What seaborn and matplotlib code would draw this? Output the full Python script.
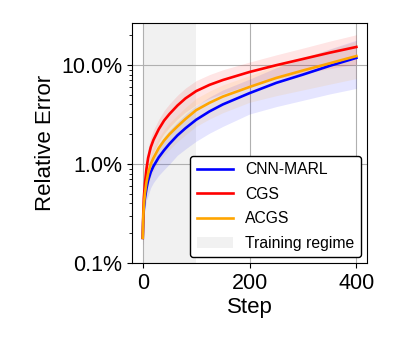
import numpy as np
import pandas as pd
import matplotlib
matplotlib.use("Agg")
import matplotlib.pyplot as plt
import seaborn as sns
from matplotlib.ticker import FuncFormatter
from matplotlib.patches import Patch

plt.rcParams['font.family'] = ['Liberation Sans', 'DejaVu Sans']

# ------------------------------
# Data (relative error in %)
# ------------------------------
steps = [0, 1, 2, 4, 7, 10, 15, 20, 30, 40, 50, 65, 80, 100, 125, 150, 200, 250, 300, 350, 400]

cnn_marl = [0.18, 0.28, 0.35, 0.45, 0.57, 0.68, 0.83, 0.95, 1.17, 1.38, 1.6, 1.95, 2.3, 2.8,
            3.4, 4.0, 5.2, 6.6, 8.0, 9.8, 11.8]
cgs = [0.18, 0.32, 0.45, 0.63, 0.9, 1.15, 1.48, 1.75, 2.25, 2.75, 3.2, 3.9, 4.6, 5.45,
       6.3, 7.05, 8.5, 9.95, 11.5, 13.3, 15.2]
acgs = [0.18, 0.29, 0.38, 0.5, 0.66, 0.8, 1.0, 1.15, 1.45, 1.73, 2.0, 2.4, 2.85, 3.5,
        4.15, 4.8, 6.0, 7.4, 8.8, 10.4, 12.3]

cnn_marl_std = [0.03, 0.05, 0.08, 0.1, 0.14, 0.2, 0.25, 0.3, 0.4, 0.5, 0.6, 0.72, 0.88, 1.1,
                1.35, 1.6, 2.0, 2.8, 3.6, 4.7, 6.0]
cgs_std = [0.03, 0.06, 0.1, 0.14, 0.22, 0.3, 0.38, 0.45, 0.58, 0.72, 0.85, 1.05, 1.25, 1.5,
           1.7, 1.9, 2.2, 2.7, 3.3, 4.1, 5.0]
acgs_std = [0.03, 0.05, 0.08, 0.1, 0.15, 0.2, 0.25, 0.3, 0.4, 0.5, 0.6, 0.72, 0.88, 1.1,
            1.3, 1.5, 1.8, 2.5, 3.2, 4.0, 5.0]

methods = ["CNN-MARL", "CGS", "ACGS"]
colors = ["blue", "red", "orange"]
training_end = 100

# ------------------------------
# Long table for seaborn
# ------------------------------
rows = []
for name, vals in zip(methods, [cnn_marl, cgs, acgs]):
    for s, v in zip(steps, vals):
        rows.append({"Step": s, "Error": v, "Method": name})
df = pd.DataFrame(rows)

fig = plt.figure(figsize=(3.99, 3.49), dpi=100)
ax = fig.add_axes([0.331, 0.246, 0.589, 0.688])

ax.axvspan(0, training_end, color="#e8e8e8", alpha=0.6, lw=0, zorder=0)

sns.lineplot(data=df, x="Step", y="Error", hue="Method", palette=colors,
             errorbar=None, linewidth=1.9, ax=ax, legend=False, zorder=3)

for vals, std, c in zip([cnn_marl, cgs, acgs], [cnn_marl_std, cgs_std, acgs_std], colors):
    v = np.array(vals)
    s = np.array(std)
    ax.fill_between(steps, v - s, v + s, color=c, alpha=0.1, lw=0, zorder=2)

ax.set_yscale("log")
ax.set_ylim(0.1, 26.5)
ax.set_xlim(-20, 420)
ax.set_xticks([0, 200, 400])
ax.yaxis.set_major_formatter(FuncFormatter(lambda y, _: f"{y:.1f}%"))
ax.grid(True, which="major", color="#b0b0b0", lw=0.8)
ax.set_axisbelow(True)
ax.tick_params(labelsize=15.5)
ax.set_xlabel("Step", fontsize=16, labelpad=2)
ax.set_ylabel("Relative Error", fontsize=16)

handles = [plt.Line2D([], [], color=c, lw=1.9) for c in colors]
handles.append(Patch(facecolor="#e8e8e8", alpha=0.6, edgecolor="none"))
leg = ax.legend(handles, methods + ["Training regime"], loc="lower right",
                fontsize=11.3, handlelength=2.3, framealpha=1, fancybox=True,
                borderaxespad=0.4, labelspacing=0.6)
leg.get_frame().set_edgecolor("black")

fig.savefig("out.png", dpi=100)
